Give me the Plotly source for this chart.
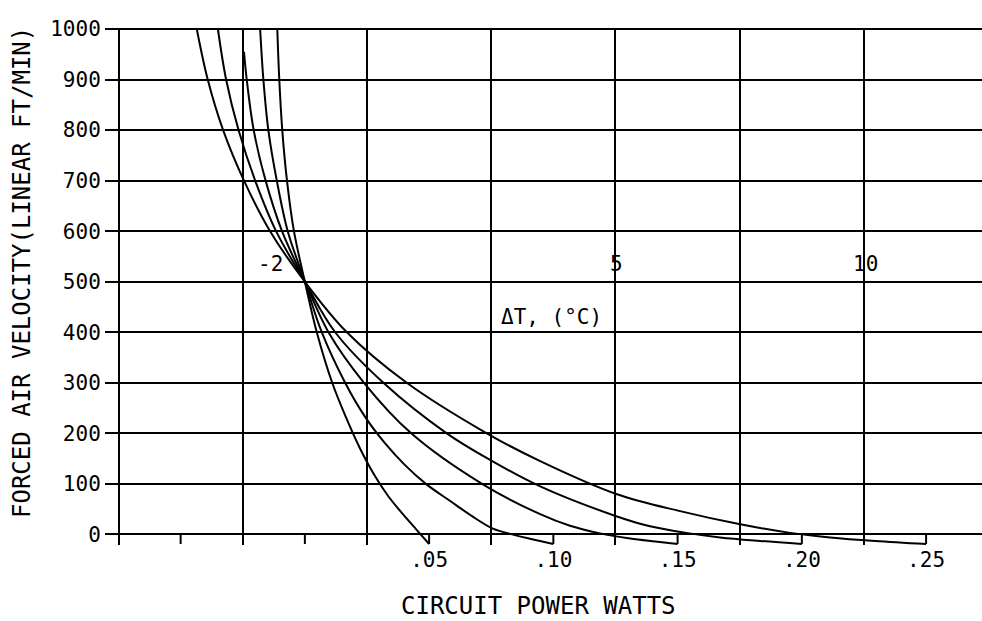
import plotly.graph_objects as go

# ---- data (circuit power W vs forced air velocity ft/min) ----
c05_w = [-0.0111, -0.0103, -0.0091, -0.0072, -0.0044, 0.0, 0.0048, 0.0110, 0.0166, 0.0222, 0.0279,
         0.0335, 0.0391, 0.0448, 0.0500]
c05_v = [1000, 900, 800, 700, 600, 500, 400, 300, 231, 170, 118, 76, 42, 10, -19]

c10_w = [-0.0180, -0.0167, -0.0147, -0.0113, -0.0069, 0.0, 0.0068, 0.0162, 0.0243, 0.0323, 0.0403,
         0.0487, 0.0585, 0.0673, 0.0754, 0.0834, 0.0919, 0.1000]
c10_v = [1000, 900, 800, 700, 600, 500, 400, 300, 232, 180, 137, 100, 66, 36, 12, 0, -10, -19]

c15_w = [-0.0245, -0.0234, -0.0206, -0.0158, -0.0092, 0.0, 0.0095, 0.0238, 0.0428, 0.0713, 0.0947,
         0.1067, 0.1188, 0.1309, 0.1410, 0.1500]
c15_v = [955, 900, 800, 700, 600, 500, 400, 300, 200, 100, 40, 17, 2, -8, -14, -19]

c20_w = [-0.0350, -0.0317, -0.0267, -0.0200, -0.0116, 0.0, 0.0122, 0.0316, 0.0571, 0.0754, 0.0947,
         0.1253, 0.1389, 0.1534, 0.1671, 0.1832, 0.2000]
c20_v = [1000, 900, 800, 700, 600, 500, 400, 300, 200, 145, 95, 36, 16, 3, -6, -13, -19]

c25_w = [-0.0435, -0.0391, -0.0329, -0.0245, -0.0140, 0.0, 0.0169, 0.0410, 0.0732, 0.0947, 0.1253,
         0.1510, 0.1752, 0.1953, 0.2114, 0.2295, 0.2500]
c25_v = [1000, 900, 800, 700, 600, 500, 400, 300, 200, 145, 80, 46, 20, 3, -6, -13, -19]

curves = [(c05_w, c05_v), (c10_w, c10_v), (c15_w, c15_v), (c20_w, c20_v), (c25_w, c25_v)]

tick_marks_w = [-0.05, 0.0, 0.05, 0.10, 0.15, 0.20, 0.25]
tick_mark_top = 0
tick_mark_bottom = -19

x_tick_vals = [0.05, 0.10, 0.15, 0.20, 0.25]
x_tick_text = [".05", ".10", ".15", ".20", ".25"]
x_grid_vals = [-0.025, 0.025, 0.075, 0.125, 0.175, 0.225]
y_tick_vals = [0, 100, 200, 300, 400, 500, 600, 700, 800, 900, 1000]

top_labels = ["25", "15", "05"]
top_label_w = [-0.0422, -0.0244, -0.0071]
top_label_v = 1026

dt_labels = ["-2", "5", "10"]
dt_label_w = [-0.0140, 0.1253, 0.2255]
dt_label_v = 536

FONT = "DejaVu Sans Mono"

fig = go.Figure()

for w, v in curves:
    fig.add_trace(go.Scatter(x=w, y=v, mode="lines",
                             line=dict(color="black", width=2, shape="spline", smoothing=1.0),
                             hoverinfo="skip"))

tx, ty = [], []
for w in tick_marks_w:
    tx += [w, w, None]
    ty += [tick_mark_top, tick_mark_bottom, None]
fig.add_trace(go.Scatter(x=tx, y=ty, mode="lines", line=dict(color="black", width=2), hoverinfo="skip"))

annotations = []
for t, w in zip(top_labels, top_label_w):
    annotations.append(dict(x=w, y=top_label_v, xref="x", yref="y", text=t, showarrow=False,
                            font=dict(family=FONT, size=21, color="black"), xanchor="center", yanchor="middle"))
for t, w in zip(dt_labels, dt_label_w):
    annotations.append(dict(x=w, y=dt_label_v, xref="x", yref="y", text=t, showarrow=False,
                            font=dict(family=FONT, size=21, color="black"), xanchor="center", yanchor="middle"))
annotations.append(dict(x=0.0991, y=430, xref="x", yref="y", text="ΔT, (°C)", showarrow=False,
                        font=dict(family=FONT, size=21, color="black"), xanchor="center", yanchor="middle"))
annotations.append(dict(x=0.485, y=-0.118, xref="paper", yref="paper", text="CIRCUIT POWER WATTS",
                        showarrow=False, font=dict(family=FONT, size=24, color="black"),
                        xanchor="center", yanchor="middle"))
annotations.append(dict(x=-0.1137, y=0.528, xref="paper", yref="paper",
                        text="FORCED AIR VELOCITY(LINEAR FT/MIN)", textangle=-90,
                        showarrow=False, font=dict(family=FONT, size=24, color="black"),
                        xanchor="center", yanchor="middle"))

fig.update_layout(
    width=982, height=621,
    margin=dict(l=120, r=0, t=28, b=76, pad=0),
    paper_bgcolor="white", plot_bgcolor="white",
    showlegend=False,
    annotations=annotations,
    xaxis=dict(range=[-0.0744, 0.2725], tickmode="array", tickvals=x_tick_vals, ticktext=x_tick_text,
               showgrid=False, zeroline=False, showline=False, ticks="",
               tickfont=dict(family=FONT, size=21, color="black"),
               minor=dict(tickmode="array", tickvals=x_grid_vals, showgrid=True,
                          gridcolor="black", gridwidth=2, ticks="")),
    yaxis=dict(range=[-21, 1002], tickmode="array", tickvals=y_tick_vals,
               showgrid=True, gridcolor="black", gridwidth=2, zeroline=False,
               showline=True, linecolor="black", linewidth=2,
               ticks="outside", ticklen=13, tickwidth=2, tickcolor="black",
               tickfont=dict(family=FONT, size=21, color="black")),
)

fig.write_html("out.html")
